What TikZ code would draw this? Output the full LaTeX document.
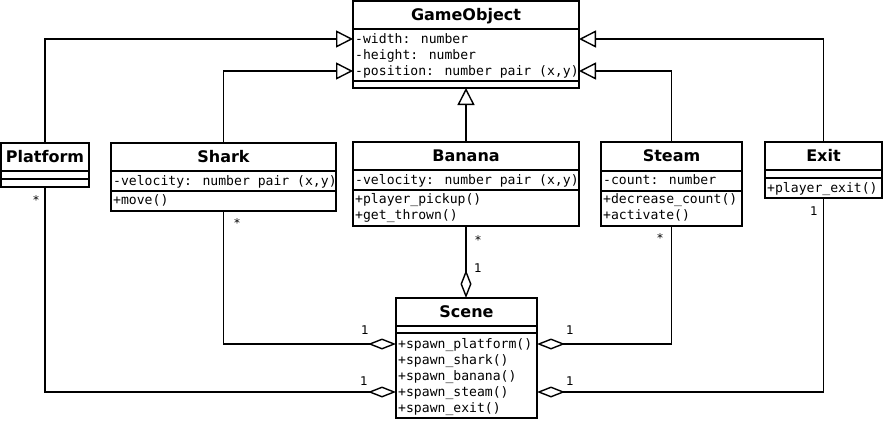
\documentclass[tikz,border=0pt]{standalone}
\usepackage{fontspec}
\setmainfont{DejaVu Sans}
\newfontfamily\monof{DejaVu Sans Mono}
\usetikzlibrary{arrows.meta}
\begin{document}
\begin{tikzpicture}[x=1pt,y=-1pt,
  cls/.style={draw, line width=1.4pt, anchor=north west, inner sep=0pt, outer sep=0pt},
  divline/.style={line width=1.4pt},
  ttl/.style={font=\bfseries\fontsize{16}{19}\selectfont, inner sep=0pt, anchor=base},
  mem/.style={font=\monof\fontsize{13.1}{16}\selectfont, inner sep=0pt, anchor=base west},
  lbl/.style={font=\fontsize{12}{14}\selectfont, inner sep=0pt},
  gen/.style={draw, line width=1.4pt, -{Triangle[open, length=17pt, width=17pt]}},
  agg/.style={draw, line width=1.4pt, -{Diamond[open, length=28pt, width=11pt]}}
]
\useasboundingbox (0,0) rectangle (883,423);

% GameObject
\node[cls, minimum width=226pt, minimum height=87pt] (go) at (353,1) {};
\draw[divline] (353,29) -- (579,29);
\draw[divline] (353,81) -- (579,81);
\node[ttl] (goT) at (466,20) {GameObject};
\node[mem] (goA1) at (355,43) {-width: number};
\node[mem] (goA2) at (355,59) {-height: number};
\node[mem] (goA3) at (355,75) {-position: number pair (x,y)};

% Platform
\node[cls, minimum width=88pt, minimum height=44pt] (plat) at (1,143) {};
\draw[divline] (1,171) -- (89,171);
\draw[divline] (1,179) -- (89,179);
\node[ttl] (platT) at (45,162) {Platform};

% Shark
\node[cls, minimum width=225pt, minimum height=68pt] (shark) at (111,143) {};
\draw[divline] (111,171) -- (336,171);
\draw[divline] (111,191) -- (336,191);
\node[ttl] (sharkT) at (223.5,162) {Shark};
\node[mem] (sharkA) at (113,185) {-velocity: number pair (x,y)};
\node[mem] (sharkM) at (113,204) {+move()};

% Banana
\node[cls, minimum width=226pt, minimum height=84pt] (banana) at (353,142) {};
\draw[divline] (353,170) -- (579,170);
\draw[divline] (353,190) -- (579,190);
\node[ttl] (bananaT) at (466,161) {Banana};
\node[mem] (bananaA) at (355,184) {-velocity: number pair (x,y)};
\node[mem] (bananaM1) at (355,203) {+player\_pickup()};
\node[mem] (bananaM2) at (355,219) {+get\_thrown()};

% Steam
\node[cls, minimum width=141pt, minimum height=84pt] (steam) at (601,142) {};
\draw[divline] (601,171) -- (742,171);
\draw[divline] (601,191) -- (742,191);
\node[ttl] (steamT) at (671.5,161) {Steam};
\node[mem] (steamA) at (603,184) {-count: number};
\node[mem] (steamM1) at (603,203) {+decrease\_count()};
\node[mem] (steamM2) at (603,219) {+activate()};

% Exit
\node[cls, minimum width=117pt, minimum height=56pt] (exit) at (765,142) {};
\draw[divline] (765,170) -- (882,170);
\draw[divline] (765,178) -- (882,178);
\node[ttl] (exitT) at (823.5,161) {Exit};
\node[mem] (exitM) at (767,192) {+player\_exit()};

% Scene
\node[cls, minimum width=141pt, minimum height=120pt] (scene) at (396,298) {};
\draw[divline] (396,326) -- (537,326);
\draw[divline] (396,333) -- (537,333);
\node[ttl] (sceneT) at (466.5,317) {Scene};
\node[mem] (sceneM1) at (398,348) {+spawn\_platform()};
\node[mem] (sceneM2) at (398,364) {+spawn\_shark()};
\node[mem] (sceneM3) at (398,380) {+spawn\_banana()};
\node[mem] (sceneM4) at (398,396) {+spawn\_steam()};
\node[mem] (sceneM5) at (398,412) {+spawn\_exit()};

% Generalisation
\draw[gen] (plat.north) |- ([yshift=-38pt]go.north west);
\draw[gen] (shark.north) |- ([yshift=-70pt]go.north west);
\draw[gen] (banana.north) -- (go.south);
\draw[gen] (steam.north) |- ([yshift=-70pt]go.north east);
\draw[gen] (exit.north) |- ([yshift=-38pt]go.north east);

% Aggregation
\draw[agg] (banana.south) -- (banana.south |- scene.north);
\draw[agg] (shark.south) |- ([yshift=-46pt]scene.north west);
\draw[agg] (plat.south) |- ([yshift=-94pt]scene.north west);
\draw[agg] (steam.south) |- ([yshift=-46pt]scene.north east);
\draw[agg] (exit.south) |- ([yshift=-94pt]scene.north east);

% Multiplicities
\node[lbl] (m1) at (36,200) {*};
\node[lbl] (m2) at (237,223) {*};
\node[lbl] (m3) at (478,240) {*};
\node[lbl] (m4) at (660,238) {*};
\node[lbl] (n1) at (478,268) {1};
\node[lbl] (n2) at (365,330) {1};
\node[lbl] (n3) at (364,381) {1};
\node[lbl] (n4) at (570,330) {1};
\node[lbl] (n5) at (570,381) {1};
\node[lbl] (n6) at (814,211) {1};
\end{tikzpicture}
\end{document}
